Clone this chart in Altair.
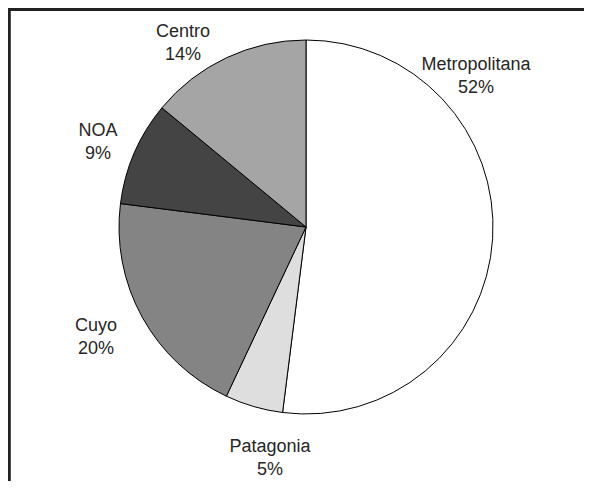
import altair as alt
import pandas as pd

regions = ["Metropolitana", "Patagonia", "Cuyo", "NOA", "Centro"]
shares = [52, 5, 20, 9, 14]
colors = ["#ffffff", "#dedede", "#848484", "#444444", "#a5a5a5"]
# label layout (pixel centre x and first-line baseline y inside the chart)
label_x = [468, 262, 88, 90, 175]
label_y = [62, 444, 323, 128, 29]

order = list(range(len(regions)))
pie_df = pd.DataFrame({"region": regions, "share": shares, "order": order})
lab_rows = []
for r, s, lx, ly in zip(regions, shares, label_x, label_y):
    lab_rows.append({"region": r, "line": r, "x": lx, "y": ly})
    lab_rows.append({"region": r, "line": f"{s}%", "x": lx, "y": ly + 22.5})
lab_df = pd.DataFrame(lab_rows)

W, H = 576, 473
CX, CY, R = 298, 219, 187

pie = alt.Chart(pie_df).mark_arc(
    outerRadius=R, stroke="#000000", strokeWidth=1
).encode(
    theta=alt.Theta("share:Q", stack=True),
    order=alt.Order("order:Q"),
    color=alt.Color("region:N", scale=alt.Scale(domain=regions, range=colors), legend=None),
    x=alt.value(CX),
    y=alt.value(CY),
)

labels = alt.Chart(lab_df).mark_text(
    font="Liberation Sans", fontSize=18, color="#262626", align="center", baseline="alphabetic"
).encode(
    x=alt.X("x:Q", scale=alt.Scale(domain=[0, W], range=[0, W]), axis=None),
    y=alt.Y("y:Q", scale=alt.Scale(domain=[0, H], range=[0, H]), axis=None),
    text="line:N",
)

frame_top = alt.Chart(pie_df).mark_rule(color="#222222", strokeWidth=2.5).encode(
    x=alt.value(0), x2=alt.value(W + 20), y=alt.value(1.5)
)
frame_left = alt.Chart(pie_df).mark_rule(color="#222222", strokeWidth=2.5).encode(
    x=alt.value(1), y=alt.value(0), y2=alt.value(H + 20)
)

chart = alt.layer(pie, labels, frame_top, frame_left).properties(
    width=W, height=H, padding=0, autosize=alt.AutoSizeParams(type="none")
).configure(background="#ffffff").configure_view(stroke="transparent", strokeWidth=0)

chart.save("out.html", embed_options={"renderer": "svg", "actions": False})
